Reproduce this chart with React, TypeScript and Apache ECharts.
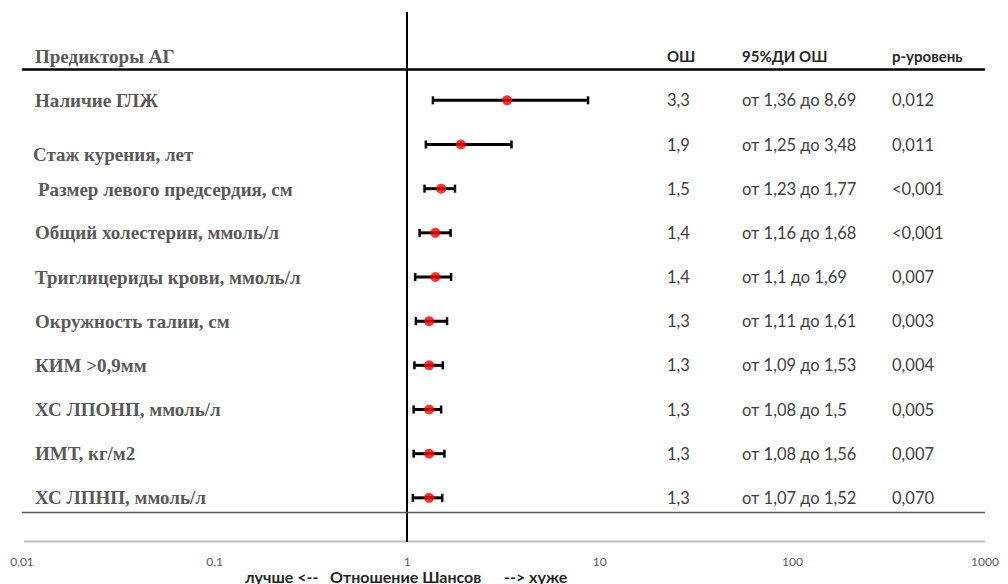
import React, { useEffect, useRef } from 'react';
import * as echarts from 'echarts';

const predictors = [
  'Наличие ГЛЖ',
  'Стаж курения, лет',
  'Размер левого предсердия, см',
  'Общий холестерин, ммоль/л',
  'Триглицериды крови, ммоль/л',
  'Окружность талии, см',
  'КИМ >0,9мм',
  'ХС ЛПОНП, ммоль/л',
  'ИМТ, кг/м2',
  'ХС ЛПНП, ммоль/л',
];
const oddsRatio = [3.3, 1.9, 1.5, 1.4, 1.4, 1.3, 1.3, 1.3, 1.3, 1.3];
const ciLower = [1.36, 1.25, 1.23, 1.16, 1.1, 1.11, 1.09, 1.08, 1.08, 1.07];
const ciUpper = [8.69, 3.48, 1.77, 1.68, 1.69, 1.61, 1.53, 1.5, 1.56, 1.52];
const pValues = ['0,012', '0,011', '<0,001', '<0,001', '0,007', '0,003', '0,004', '0,005', '0,007', '0,070'];
const headers = ['Предикторы АГ', 'ОШ', '95%ДИ ОШ', 'р-уровень'];
const axisTitleParts = ['лучше <--', 'Отношение Шансов', '--> хуже'];

const fmt = (v: number) => String(v).replace('.', ',');

export default function App() {
  const ref = useRef<HTMLDivElement>(null);
  useEffect(() => {
    document.body.style.margin = '0';
    const chart = echarts.init(ref.current!, null, { renderer: 'svg' });
    const rows = predictors.map((_, i) => i + 2);
    chart.setOption({
      animation: false,
      grid: { left: 22, right: 23, top: 12, bottom: 42 },
      xAxis: {
        type: 'log',
        logBase: 10,
        min: 0.01,
        max: 1000,
        position: 'bottom',
        axisLine: { show: false },
        axisTick: { show: false },
        splitLine: { show: false },
        axisLabel: {
          formatter: (v: number) => fmt(+v.toPrecision(6)),
          color: '#595959',
          fontFamily: 'Lato',
          fontSize: 12,
          margin: 13,
        },
      },
      yAxis: { type: 'value', inverse: true, min: 0, max: 12, show: false },
      series: [
        {
          type: 'custom',
          data: predictors.map((_, i) => [ciLower[i], ciUpper[i], rows[i]]),
          encode: { x: [0, 1], y: 2 },
          renderItem: (params: any, api: any) => {
            const p1 = api.coord([api.value(0), api.value(2)]);
            const p2 = api.coord([api.value(1), api.value(2)]);
            const st = { stroke: '#000', lineWidth: 3 };
            const cap = { stroke: '#000', lineWidth: 2.5 };
            return {
              type: 'group',
              children: [
                { type: 'line', shape: { x1: p1[0], y1: p1[1], x2: p2[0], y2: p2[1] }, style: st },
                { type: 'line', shape: { x1: p1[0], y1: p1[1] - 4, x2: p1[0], y2: p1[1] + 4 }, style: cap },
                { type: 'line', shape: { x1: p2[0], y1: p2[1] - 4, x2: p2[0], y2: p2[1] + 4 }, style: cap },
              ],
            };
          },
          z: 2,
        },
        {
          type: 'scatter',
          data: oddsRatio.map((v, i) => [v, rows[i]]),
          symbolSize: 10,
          itemStyle: { color: '#ff0000' },
          z: 3,
          markLine: {
            silent: true,
            symbol: 'none',
            label: { show: false },
            data: [
              { xAxis: 1, lineStyle: { color: '#000', width: 2, type: 'solid' } },
              { yAxis: 1.29, lineStyle: { color: '#000', width: 2.5, type: 'solid' } },
              { yAxis: 11.32, lineStyle: { color: '#595959', width: 1.3, type: 'solid' } },
            ],
          },
        },
      ],
    });

    const yPix = (v: number) => chart.convertToPixel({ yAxisIndex: 0 }, v) as number;
    const xPix = (v: number) => chart.convertToPixel({ xAxisIndex: 0 }, v) as number;
    const labelOffset: Record<number, [number, number]> = { 1: [-2, 10], 2: [3, 1] };
    const graphics: any[] = [];
    const by = yPix(12) - 0.5;
    graphics.push({
      type: 'line', z: 1,
      shape: { x1: xPix(0.01) + 2, y1: by, x2: xPix(1000), y2: by },
      style: { stroke: '#bfbfbf', lineWidth: 2 },
    });
    const hy = yPix(1);
    graphics.push({
      type: 'text', x: 35, y: hy,
      style: { text: headers[0], font: 'bold 19px "Liberation Serif"', fill: '#595959', verticalAlign: 'middle' },
    });
    const colX = [667, 742, 892];
    headers.slice(1).forEach((h, j) => {
      graphics.push({
        type: 'text', x: colX[j], y: hy,
        style: { text: h, font: 'bold 15px Lato', fill: '#262626', verticalAlign: 'middle' },
      });
    });
    predictors.forEach((name, i) => {
      const y = yPix(rows[i]);
      const off = labelOffset[i] || [0, 0];
      graphics.push({
        type: 'text', x: 35 + off[0], y: y + off[1],
        style: { text: name, font: 'bold 19px "Liberation Serif"', fill: '#595959', verticalAlign: 'middle' },
      });
      const cols = [fmt(oddsRatio[i]), `от ${fmt(ciLower[i])} до ${fmt(ciUpper[i])}`, pValues[i]];
      cols.forEach((t, j) => {
        graphics.push({
          type: 'text', x: colX[j], y,
          style: { text: t, font: '16.5px Lato', fill: '#404040', verticalAlign: 'middle' },
        });
      });
    });
    const titleX = [245, 330, 504];
    axisTitleParts.forEach((t, j) => {
      graphics.push({
        type: 'text', x: titleX[j], y: 576,
        style: { text: t, font: 'bold 16px Lato', fill: '#262626', verticalAlign: 'middle' },
      });
    });
    chart.setOption({ graphic: graphics });

    return () => chart.dispose();
  }, []);
  return <div ref={ref} style={{ width: 1008, height: 584 }} />;
}
